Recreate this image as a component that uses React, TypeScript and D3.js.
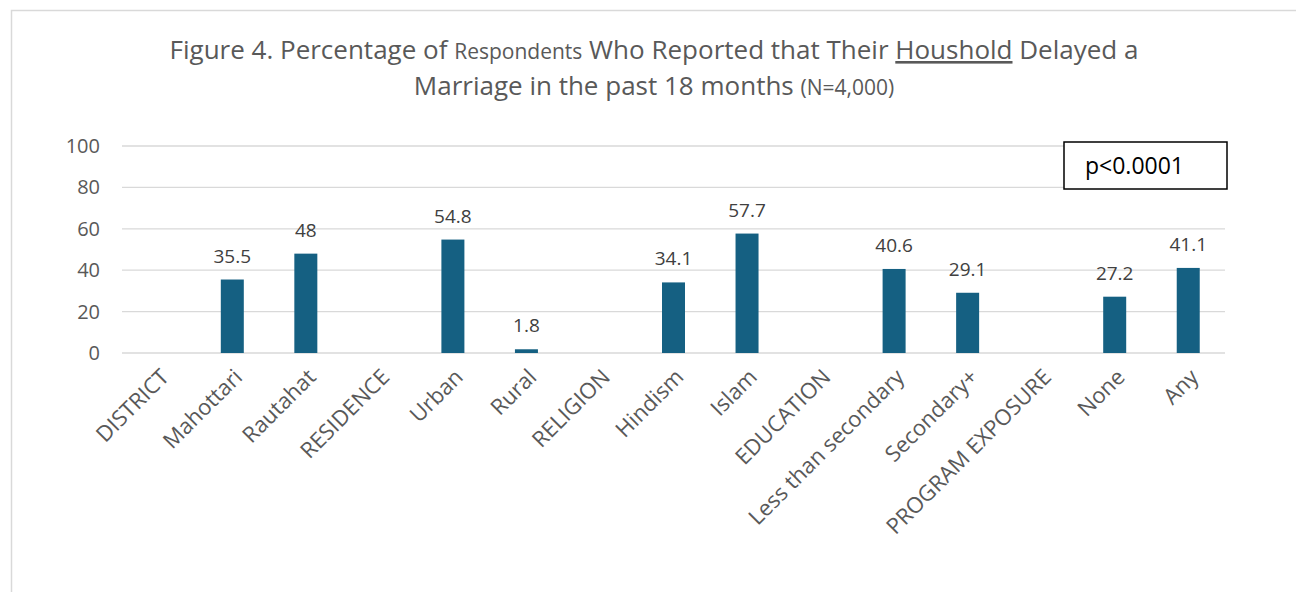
import React, { useEffect, useRef } from 'react';
import * as d3 from 'd3';

// categories along the x axis (group headers have no value)
const categories = [
  'DISTRICT',
  'Mahottari',
  'Rautahat',
  'RESIDENCE',
  'Urban',
  'Rural',
  'RELIGION',
  'Hindism',
  'Islam',
  'EDUCATION',
  'Less than secondary',
  'Secondary+',
  'PROGRAM EXPOSURE',
  'None',
  'Any',
];
const values: (number | null)[] = [
  null, 35.5, 48, null, 54.8, 1.8, null, 34.1, 57.7, null, 40.6, 29.1, null, 27.2, 41.1,
];
const valueLabels = ['', '35.5', '48', '', '54.8', '1.8', '', '34.1', '57.7', '', '40.6', '29.1', '', '27.2', '41.1'];
const yTicks = [0, 20, 40, 60, 80, 100];

const W = 1296,
  H = 592;
const margin = { top: 146, left: 122, right: 71, bottom: 239 };
const BAR = '#156082';
const FONT = '"Open Sans", "Noto Sans", sans-serif';

function App() {
  const svgRef = useRef<SVGSVGElement>(null);

  useEffect(() => {
    const svg = d3.select(svgRef.current);
    svg.selectAll('*').remove();

    const x = d3
      .scaleBand()
      .domain(categories)
      .range([margin.left, W - margin.right]);
    const y = d3
      .scaleLinear()
      .domain([0, 100])
      .range([H - margin.bottom, margin.top]);

    // outer chart frame
    svg
      .append('rect')
      .attr('x', 11.5)
      .attr('y', 10.5)
      .attr('width', W + 20)
      .attr('height', H + 20)
      .attr('fill', 'white')
      .attr('stroke', '#d9d9d9')
      .attr('stroke-width', 1.5);

    // title
    const title = svg
      .append('text')
      .attr('text-anchor', 'middle')
      .attr('fill', '#595959')
      .style('font-family', FONT)
      .style('font-size', '26px');
    const l1 = title.append('tspan').attr('x', 654).attr('y', 59);
    l1.append('tspan').text('Figure 4. Percentage of ');
    l1.append('tspan').style('font-size', '21px').text('Respondents');
    l1.append('tspan').text(' Who Reported that Their ');
    l1.append('tspan').style('text-decoration', 'underline').text('Houshold');
    l1.append('tspan').text(' Delayed a');
    const l2 = title.append('tspan').attr('x', 654).attr('y', 95);
    l2.append('tspan').text('Marriage in the past 18 months ');
    l2.append('tspan').style('font-size', '21px').text('(N=4,000)');

    // gridlines
    svg
      .append('g')
      .selectAll('line')
      .data(yTicks)
      .join('line')
      .attr('x1', margin.left)
      .attr('x2', W - margin.right)
      .attr('y1', d => y(d))
      .attr('y2', d => y(d))
      .attr('stroke', '#d9d9d9')
      .attr('stroke-width', 1.3);

    // y axis labels
    svg
      .append('g')
      .selectAll('text')
      .data(yTicks)
      .join('text')
      .attr('x', 100)
      .attr('y', d => y(d))
      .attr('dy', '0.35em')
      .attr('text-anchor', 'end')
      .attr('fill', '#595959')
      .style('font-family', FONT)
      .style('font-size', '20px')
      .text(d => d);

    const bw = 23;
    const data = categories.map((c, i) => ({ c, v: values[i], label: valueLabels[i] })).filter(d => d.v != null);

    // bars
    svg
      .append('g')
      .selectAll('rect')
      .data(data)
      .join('rect')
      .attr('x', d => x(d.c)! + x.bandwidth() / 2 - bw / 2)
      .attr('y', d => y(d.v as number))
      .attr('width', bw)
      .attr('height', d => y(0) - y(d.v as number))
      .attr('fill', BAR);

    // value labels
    svg
      .append('g')
      .selectAll('text')
      .data(data)
      .join('text')
      .attr('x', d => x(d.c)! + x.bandwidth() / 2)
      .attr('y', d => y(d.v as number) - 17)
      .attr('text-anchor', 'middle')
      .attr('fill', '#404040')
      .style('font-family', FONT)
      .style('font-size', '19px')
      .text(d => d.label);

    // x labels, rotated
    svg
      .append('g')
      .selectAll('text')
      .data(categories)
      .join('text')
      .attr('transform', d => `translate(${x(d)! + x.bandwidth() / 2 + 6},${373}) rotate(-45)`)
      .attr('text-anchor', 'end')
      .attr('dy', '0.35em')
      .attr('fill', '#595959')
      .style('font-family', FONT)
      .style('font-size', '22px')
      .text(d => d);

    // p-value box
    svg
      .append('rect')
      .attr('x', 1064)
      .attr('y', 142)
      .attr('width', 163)
      .attr('height', 47)
      .attr('fill', 'white')
      .attr('stroke', '#000')
      .attr('stroke-width', 1.5);
    svg
      .append('text')
      .attr('x', 1085)
      .attr('y', 166)
      .attr('dy', '0.35em')
      .attr('fill', '#000')
      .style('font-family', FONT)
      .style('font-size', '23px')
      .text('p<0.0001');
  }, []);

  return (
    <svg
      ref={svgRef}
      width={W}
      height={H}
      style={{ position: 'absolute', left: 0, top: 0, background: 'white' }}
    />
  );
}

export default App;
